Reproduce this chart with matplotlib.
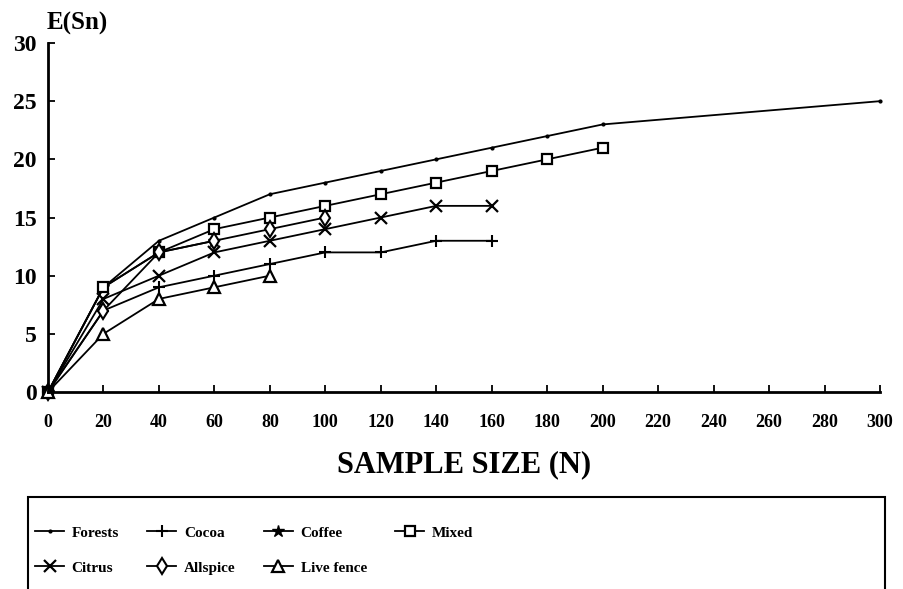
import matplotlib
matplotlib.use("Agg")
import matplotlib.pyplot as plt
from matplotlib.patches import Rectangle

plt.rcParams['font.family'] = ['Liberation Serif', 'DejaVu Serif']

forests_x = [0, 20, 40, 60, 80, 100, 120, 140, 160, 180, 200, 300]
forests_y = [0, 9, 13, 15, 17, 18, 19, 20, 21, 22, 23, 25]
cocoa_x = [0, 20, 40, 60, 80, 100, 120, 140, 160]
cocoa_y = [0, 7, 9, 10, 11, 12, 12, 13, 13]
coffee_x = [0, 20, 40, 60]
coffee_y = [0, 9, 12, 13]
mixed_x = [0, 20, 40, 60, 80, 100, 120, 140, 160, 180, 200]
mixed_y = [0, 9, 12, 14, 15, 16, 17, 18, 19, 20, 21]
citrus_x = [0, 20, 40, 60, 80, 100, 120, 140, 160]
citrus_y = [0, 8, 10, 12, 13, 14, 15, 16, 16]
allspice_x = [0, 20, 40, 60, 80, 100]
allspice_y = [0, 7, 12, 13, 14, 15]
live_x = [0, 20, 40, 60, 80]
live_y = [0, 5, 8, 9, 10]

x_ticks = list(range(0, 301, 20))
y_ticks = [0, 5, 10, 15, 20, 25, 30]

fig = plt.figure(figsize=(9.04, 5.89), dpi=100)
ax = fig.add_axes([48/904, 1-392/589, (880-48)/904, (392-43)/589])

kw = dict(color='black', lw=1.3, clip_on=False)
h1, = ax.plot(forests_x, forests_y, marker='.', ms=4, label='Forests', **kw)
h2, = ax.plot(cocoa_x, cocoa_y, marker='+', ms=9, mew=1.5, label='Cocoa', **kw)
h3, = ax.plot(coffee_x, coffee_y, marker='*', ms=9, label='Coffee', **kw)
h4, = ax.plot(mixed_x, mixed_y, marker='s', ms=7, mfc='white', mew=1.6, label='Mixed', **kw)
h5, = ax.plot(citrus_x, citrus_y, marker='x', ms=8, mew=1.6, label='Citrus', **kw)
h6, = ax.plot(allspice_x, allspice_y, marker='d', ms=8, mfc='white', mew=1.5, label='Allspice', **kw)
h7, = ax.plot(live_x, live_y, marker='^', ms=8, mfc='white', mew=1.6, label='Live fence', **kw)

ax.set_xlim(0, 300)
ax.set_ylim(0, 30)
ax.set_xticks(x_ticks)
ax.set_yticks(y_ticks)
for s in ['top', 'right']:
    ax.spines[s].set_visible(False)
for s in ['left', 'bottom']:
    ax.spines[s].set_linewidth(2)
ax.tick_params(direction='in', length=5, width=1.3)
ax.tick_params(axis='x', pad=16, labelsize=13)
ax.tick_params(axis='y', pad=8, labelsize=17)
for lab in ax.get_xticklabels() + ax.get_yticklabels():
    lab.set_fontweight('bold')

ax.set_xlabel('SAMPLE SIZE (N)', fontsize=22, fontweight='bold', labelpad=14)
fig.text(77/904, 1-23/589, 'E(Sn)', ha='center', va='center', fontsize=18, fontweight='bold')

fig.patches.append(Rectangle((28/904, -0.05), (885-28)/904, (0.05 + 1-497/589),
                             transform=fig.transFigure, fill=False, lw=1.5, ec='black'))

handles = [h1, h5, h2, h6, h3, h7, h4]
leg = fig.legend(handles=handles, loc='upper left', bbox_to_anchor=(32/904, 1-523/589),
                 ncol=4, frameon=False, handlelength=1.9, columnspacing=1.85,
                 prop={'weight': 'bold', 'size': 11}, labelspacing=1.4, handletextpad=0.5,
                 borderaxespad=0, borderpad=0.2)

fig.savefig('out.png', dpi=100)
